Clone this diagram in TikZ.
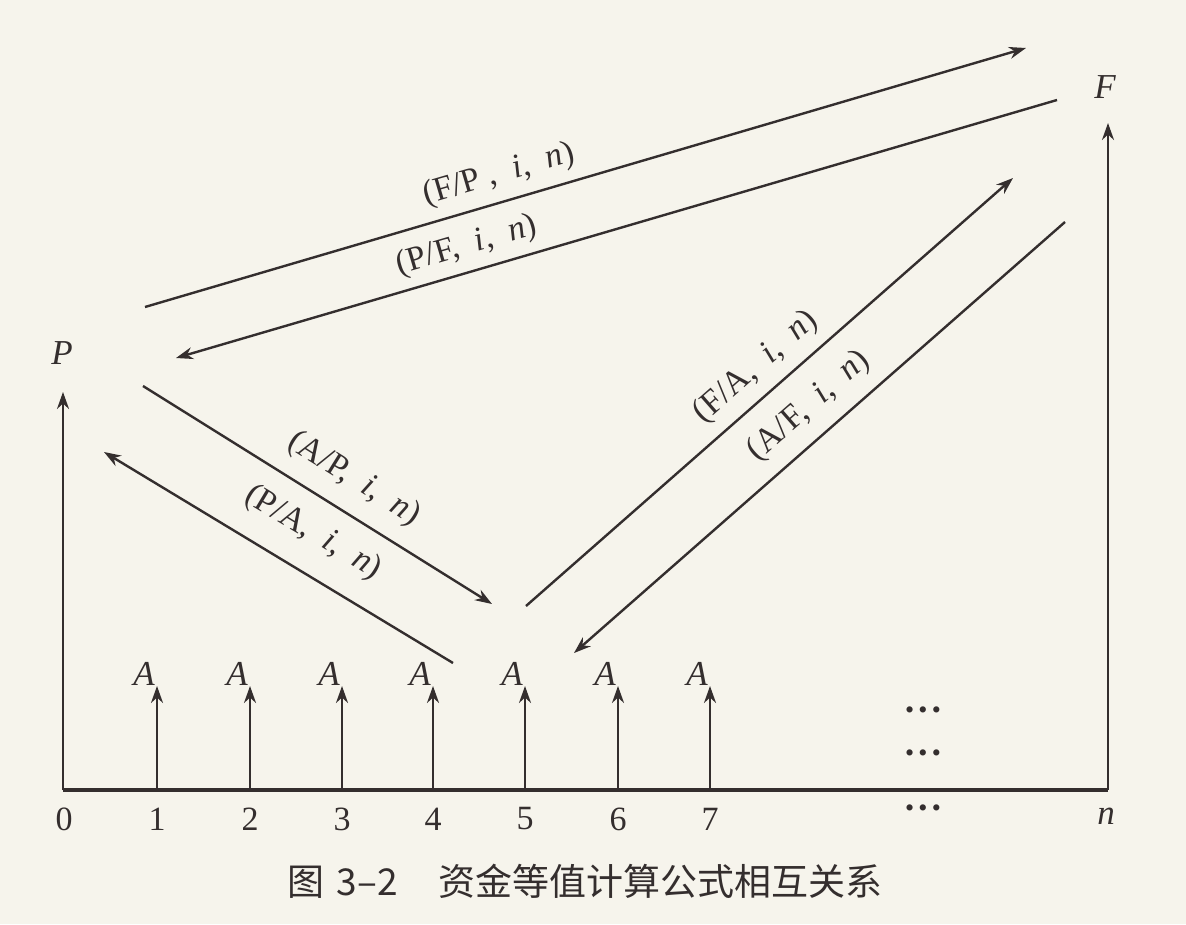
\documentclass[tikz,border=0pt]{standalone}
\usepackage{fontspec}
\setmainfont{Liberation Serif}
\newfontfamily\cjk{Noto Sans CJK SC}
\usetikzlibrary{arrows.meta}
\definecolor{paper}{HTML}{F6F4EC}
\definecolor{ink}{HTML}{342E2E}
\begin{document}
\begin{tikzpicture}[x=1pt,y=-1pt,
  arr/.style={draw=ink, line width=2.4pt, -{Stealth[length=17pt,width=12pt]}},
  axisline/.style={draw=ink, line width=3.2pt},
  var/.style={font=\fontsize{35}{35}\selectfont\itshape, text=ink, inner sep=0pt},
  num/.style={font=\fontsize{34}{34}\selectfont, text=ink, inner sep=0pt},
  dots/.style={font=\fontsize{26}{26}\selectfont, text=ink, inner sep=0pt},
  fml/.style={font=\fontsize{34}{34}\selectfont, text=ink, inner sep=0pt},
  captext/.style={font=\cjk\fontsize{37}{37}\selectfont, text=ink, inner sep=0pt}]
\fill[paper] (0,0) rectangle (1186,924);
\useasboundingbox (0,0) rectangle (1186,924);

% axis
\coordinate (O) at (63,790);
\coordinate (N) at (1108,790);
\coordinate (Ptip) at (63,392);
\coordinate (Ftip) at (1108,123);
\draw[axisline] (O) -- (N);
\draw[arr] (O) -- (Ptip);
\draw[arr] (N) -- (Ftip);
\node[var] (P) at (62,353) {P};
\node[var] (F) at (1105,87) {F};

% A arrows
\foreach \k/\x in {1/157,2/250,3/342,4/433,5/525,6/618,7/710}{
  \coordinate (b\k) at (\x,790);
  \coordinate (t\k) at (\x,686);
  \draw[arr] (b\k) -- (t\k);
  \node[var] (A\k) at (\x-13,674) {A};
  \node[num] (n\k) at (\x,819) {\k};
}
\node[num] (n0) at (64,819) {0};
\node[var] (nn) at (1106,816) {n};
\node[dots] (d1) at (923,713) {\textbullet\,\textbullet\,\textbullet};
\node[dots] (d2) at (923,756) {\textbullet\,\textbullet\,\textbullet};
\node[dots] (d3) at (923,811) {\textbullet\,\textbullet\,\textbullet};

% diagonal connectors
\coordinate (fp1) at (145,307);  \coordinate (fp2) at (1026,48);
\coordinate (pf1) at (1057,100); \coordinate (pf2) at (176,358);
\coordinate (ap1) at (143,386);  \coordinate (ap2) at (492,604);
\coordinate (pa1) at (453,663);  \coordinate (pa2) at (104,452);
\coordinate (fa1) at (526,606);  \coordinate (fa2) at (1013,178);
\coordinate (af1) at (1065,222); \coordinate (af2) at (574,653);
\draw[arr] (fp1) -- (fp2);
\draw[arr] (pf1) -- (pf2);
\draw[arr] (ap1) -- (ap2);
\draw[arr] (pa1) -- (pa2);
\draw[arr] (fa1) -- (fa2);
\draw[arr] (af1) -- (af2);

\node[fml, rotate=16.4] (lfp) at (499,175) {(F/P ,\enspace\textit{i},\enspace\textit{n})};
\node[fml, rotate=16.4] (lpf) at (467,246) {(P/F,\enspace\textit{i},\enspace\textit{n})};
\node[fml, rotate=-32] (lap) at (354,479) {(A/P,\enspace\textit{i},\enspace\textit{n})};
\node[fml, rotate=-31] (lpa) at (313,533) {(P/A,\enspace\textit{i},\enspace\textit{n})};
\node[fml, rotate=41.3] (lfa) at (756,367) {(F/A,\enspace\textit{i},\enspace\textit{n})};
\node[fml, rotate=41.3] (laf) at (809,406) {(A/F,\enspace\textit{i},\enspace\textit{n})};

\node[captext] (caption) at (585,881) {图\,\,3–2\hspace{1.1em}资金等值计算公式相互关系};
\end{tikzpicture}
\end{document}
